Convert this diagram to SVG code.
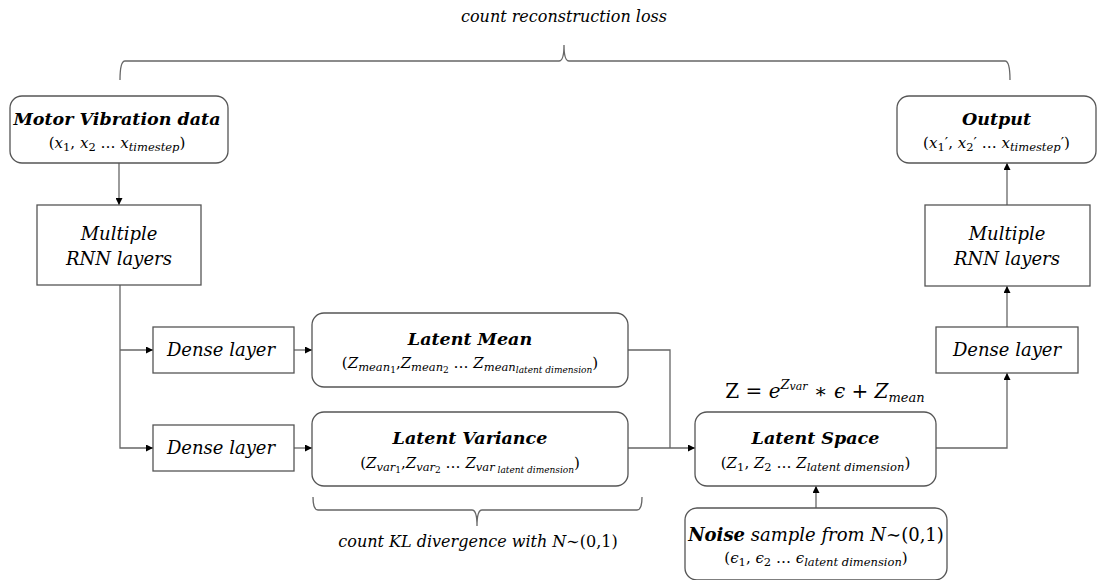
<svg xmlns="http://www.w3.org/2000/svg" width="1108" height="580" viewBox="0 0 1108 580">
<style>
text { font-family: "DejaVu Serif", "Liberation Serif", serif; fill: #000; }
.t { font-style: italic; font-size: 18px; }
.b { font-style: italic; font-weight: bold; font-size: 17.5px; }
.m { font-size: 15px; }
.i { font-style: italic; }
.s { font-size: 11.5px; }
.ss { font-size: 9px; }
.lbl { font-style: italic; font-size: 16px; }
.box { fill: #fff; stroke: #555; stroke-width: 1.3; }
.ln { fill: none; stroke: #666; stroke-width: 1.3; }
.arr { fill: none; stroke: #666; stroke-width: 1.3; marker-end: url(#ah); }
</style>
<defs>
<marker id="ah" viewBox="0 0 10 10" refX="10" refY="5" markerWidth="7" markerHeight="7" markerUnits="userSpaceOnUse" orient="auto">
<path d="M0 0 L10 5 L0 10 z" fill="#000"/>
</marker>
</defs>
<rect width="1108" height="580" fill="#fff"/>

<g id="braces">
<path class="ln" d="M120 80 Q120 61 125 61 H559 Q564 61 564 45 Q564 61 569 61 H1005 Q1010 61 1010 80"/>
<text x="564" y="22" class="lbl" text-anchor="middle">count reconstruction loss</text>
<path class="ln" d="M313 497 Q313 510 318 510 H472 Q477 510 477 526 Q477 510 482 510 H637 Q642 510 642 497"/>
<text x="478" y="547" class="lbl" text-anchor="middle">count KL divergence with <tspan>N</tspan><tspan font-style="normal">∼(0,1)</tspan></text>
</g>

<g id="connectors">
<path class="arr" d="M119 163 V205"/>
<path class="arr" d="M120 285 V448 H153"/>
<path class="arr" d="M120 350 H153"/>
<path class="arr" d="M294 350 H312"/>
<path class="arr" d="M294 448 H312"/>
<path class="ln" d="M628 350 H670 V448"/>
<path class="arr" d="M628 448 H695"/>
<path class="arr" d="M816 508 V486"/>
<path class="arr" d="M936 448 H1007 V373"/>
<path class="arr" d="M1007 327 V286"/>
<path class="arr" d="M1007 205 V163"/>
</g>

<g id="motor">
<rect class="box" x="10" y="96" width="218" height="67" rx="12"/>
<text x="117" y="125" class="b" text-anchor="middle">Motor Vibration data</text>
<text x="117" y="148" class="m" text-anchor="middle">(<tspan class="i">x</tspan><tspan class="s" dy="3">1</tspan><tspan dy="-3">, </tspan><tspan class="i">x</tspan><tspan class="s" dy="3">2</tspan><tspan dy="-3"> … </tspan><tspan class="i">x</tspan><tspan class="s i" dy="3">timestep</tspan><tspan dy="-3">)</tspan></text>
</g>

<g id="rnn1">
<rect class="box" x="37" y="205" width="164" height="80" rx="0"/>
<text x="119" y="240" class="t" text-anchor="middle">Multiple</text>
<text x="119" y="265" class="t" text-anchor="middle">RNN layers</text>
</g>

<g id="dense1">
<rect class="box" x="153" y="327" width="141" height="46" rx="0"/>
<text x="221" y="356" class="t" text-anchor="middle">Dense layer</text>
</g>

<g id="dense2">
<rect class="box" x="153" y="425" width="141" height="46" rx="0"/>
<text x="221" y="454" class="t" text-anchor="middle">Dense layer</text>
</g>

<g id="latentmean">
<rect class="box" x="312" y="313" width="316" height="74" rx="12"/>
<text x="470" y="345" class="b" font-size="18.5" text-anchor="middle">Latent Mean</text>
<text x="470" y="368" class="m" text-anchor="middle">(<tspan class="i">Z</tspan><tspan class="s i" dy="3">mean</tspan><tspan class="ss" dy="2">1</tspan><tspan dy="-5">,</tspan><tspan class="i">Z</tspan><tspan class="s i" dy="3">mean</tspan><tspan class="ss" dy="2">2</tspan><tspan dy="-5"> … </tspan><tspan class="i">Z</tspan><tspan class="s i" dy="3">mean</tspan><tspan class="ss i" dy="2">latent dimension</tspan><tspan dy="-5">)</tspan></text>
</g>

<g id="latentvar">
<rect class="box" x="312" y="412" width="316" height="74" rx="12"/>
<text x="470" y="444" class="b" font-size="18.5" text-anchor="middle">Latent Variance</text>
<text x="470" y="468" class="m" text-anchor="middle">(<tspan class="i">Z</tspan><tspan class="s i" dy="3">var</tspan><tspan class="ss" dy="2">1</tspan><tspan dy="-5">,</tspan><tspan class="i">Z</tspan><tspan class="s i" dy="3">var</tspan><tspan class="ss" dy="2">2</tspan><tspan dy="-5"> … </tspan><tspan class="i">Z</tspan><tspan class="s i" dy="3">var</tspan><tspan class="ss i" dy="2"> latent dimension</tspan><tspan dy="-5">)</tspan></text>
</g>

<g id="formula">
<text x="825" y="398" text-anchor="middle" font-size="20">Z = <tspan class="i">e</tspan><tspan class="i" font-size="13" dy="-9">Z</tspan><tspan class="i" font-size="11" dy="1">var</tspan><tspan dy="8"> ∗ </tspan><tspan class="i">ϵ</tspan> + <tspan class="i">Z</tspan><tspan class="i" font-size="13" dy="4">mean</tspan></text>
</g>

<g id="latentspace">
<rect class="box" x="695" y="412" width="241" height="74" rx="12"/>
<text x="815.5" y="444" class="b" font-size="18.5" text-anchor="middle">Latent Space</text>
<text x="815.5" y="468" class="m" text-anchor="middle">(<tspan class="i">Z</tspan><tspan class="s" dy="3">1</tspan><tspan dy="-3">, </tspan><tspan class="i">Z</tspan><tspan class="s" dy="3">2</tspan><tspan dy="-3"> … </tspan><tspan class="i">Z</tspan><tspan class="s i" dy="3">latent dimension</tspan><tspan dy="-3">)</tspan></text>
</g>

<g id="noise">
<rect class="box" x="685" y="508" width="262" height="72" rx="12"/>
<text x="816" y="541" class="t" font-size="16.5" text-anchor="middle"><tspan font-weight="bold">Noise</tspan> sample from N<tspan font-style="normal">∼(0,1)</tspan></text>
<text x="816" y="563" class="m" font-size="14" text-anchor="middle">(<tspan class="i">ϵ</tspan><tspan class="s" dy="3">1</tspan><tspan dy="-3">, </tspan><tspan class="i">ϵ</tspan><tspan class="s" dy="3">2</tspan><tspan dy="-3"> … </tspan><tspan class="i">ϵ</tspan><tspan class="s i" dy="3">latent dimension</tspan><tspan dy="-3">)</tspan></text>
</g>

<g id="dense3">
<rect class="box" x="936" y="327" width="142" height="46" rx="0"/>
<text x="1007" y="356" class="t" text-anchor="middle">Dense layer</text>
</g>

<g id="rnn2">
<rect class="box" x="925" y="205" width="165" height="81" rx="0"/>
<text x="1007" y="240" class="t" text-anchor="middle">Multiple</text>
<text x="1007" y="265" class="t" text-anchor="middle">RNN layers</text>
</g>

<g id="output">
<rect class="box" x="897" y="96" width="199" height="67" rx="12"/>
<text x="996.5" y="125" class="b" text-anchor="middle">Output</text>
<text x="996.5" y="148" class="m" text-anchor="middle">(<tspan class="i">x</tspan><tspan class="s" dy="3">1</tspan><tspan dy="-3">′, </tspan><tspan class="i">x</tspan><tspan class="s" dy="3">2</tspan><tspan dy="-3">′ … </tspan><tspan class="i">x</tspan><tspan class="s i" dy="3">timestep</tspan><tspan dy="-3">′)</tspan></text>
</g>
</svg>
